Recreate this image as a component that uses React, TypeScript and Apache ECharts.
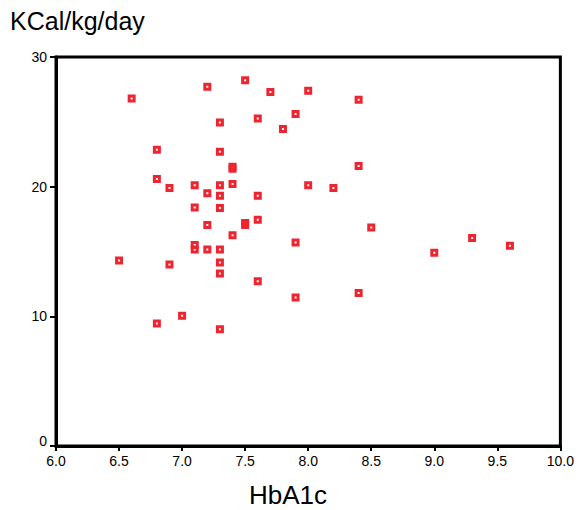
import React, { useEffect, useRef } from "react";
import * as echarts from "echarts";

const hba1c = [
  6.6, 7.2, 7.5, 7.7, 7.9, 7.3, 7.6, 7.8, 6.8, 7.3, 7.4, 7.4, 6.8, 6.9, 7.1, 7.2,
  7.3, 7.4, 7.3, 7.6, 8.0, 8.4, 8.4, 8.0, 8.2, 8.5, 7.9, 8.4, 7.9, 7.1, 7.3, 7.2,
  7.5, 7.5, 7.6, 7.4, 7.1, 7.1, 7.2, 7.3, 6.5, 6.9, 7.3, 7.3, 7.6, 6.8, 7.0, 7.3,
  9.0, 9.3, 9.6,
];
const kcal = [
  26.8, 27.7, 28.2, 27.3, 25.6, 24.95, 25.25, 24.45, 22.85, 22.7, 21.38, 21.54, 20.6, 19.9, 20.1, 19.5,
  20.1, 20.2, 19.3, 19.3, 27.4, 26.7, 21.6, 20.1, 19.9, 16.85, 15.7, 11.8, 11.45, 18.4, 18.35, 17.05,
  17.04, 17.2, 17.45, 16.25, 15.5, 15.15, 15.15, 15.15, 14.3, 14.0, 14.15, 13.3, 12.7, 9.45, 10.05, 9.0,
  14.9, 16.05, 15.45,
];
const xTicks = [6.0, 6.5, 7.0, 7.5, 8.0, 8.5, 9.0, 9.5, 10.0];
const yTicks = [0, 10, 20, 30];

export default function App() {
  const ref = useRef<HTMLDivElement>(null);
  useEffect(() => {
    if (!ref.current) return;
    const chart = echarts.init(ref.current, null, { renderer: "svg" });
    const font = "'Liberation Sans', Arial, Helvetica, sans-serif";
    chart.setOption({
      animation: false,
      backgroundColor: "#fff",
      textStyle: { fontFamily: font },
      grid: {
        left: 56,
        right: 16,
        top: 57,
        bottom: 64,
        show: true,
        borderColor: "#000",
        borderWidth: 3,
        backgroundColor: "transparent",
      },
      xAxis: {
        type: "value",
        min: xTicks[0],
        max: xTicks[xTicks.length - 1],
        interval: 0.5,
        splitLine: { show: false },
        axisLine: { show: true, lineStyle: { color: "#000", width: 3 } },
        axisTick: { show: true, length: 5, lineStyle: { color: "#000", width: 2 } },
        axisLabel: {
          color: "#000",
          fontSize: 14,
          fontFamily: font,
          margin: 8,
          formatter: (v: number) => v.toFixed(1),
        },
      },
      yAxis: {
        type: "value",
        min: yTicks[0],
        max: yTicks[yTicks.length - 1],
        interval: 10,
        splitLine: { show: false },
        axisLine: { show: true, lineStyle: { color: "#000", width: 3 } },
        axisTick: { show: true, length: 6, lineStyle: { color: "#000", width: 2 } },
        axisLabel: {
          color: "#000",
          fontSize: 14,
          fontFamily: font,
          margin: 9,
          formatter: (v: number) => (v === 0 ? "{z|0}" : String(v)),
          rich: { z: { fontSize: 14, fontFamily: font, color: "#000", padding: [0, 0, 10, 0] } },
        },
      },
      graphic: [
        {
          type: "text",
          left: 10,
          top: 8,
          style: { text: "KCal/kg/day", fontSize: 25, fontFamily: font, fill: "#000" },
        },
        {
          type: "text",
          left: 249,
          top: 482,
          style: { text: "HbA1c", fontSize: 26, fontFamily: font, fill: "#000" },
        },
      ],
      series: [
        {
          type: "scatter",
          data: hba1c.map((x, i) => [x, kcal[i]]),
          symbol: "rect",
          symbolSize: 5,
          itemStyle: { color: "rgba(255,255,255,0)", borderColor: "#ee2530", borderWidth: 3, opacity: 1 },
          emphasis: { disabled: true },
        },
      ],
    });
    return () => chart.dispose();
  }, []);
  return <div ref={ref} style={{ width: 577, height: 510, position: "absolute", left: 0, top: 0 }} />;
}
